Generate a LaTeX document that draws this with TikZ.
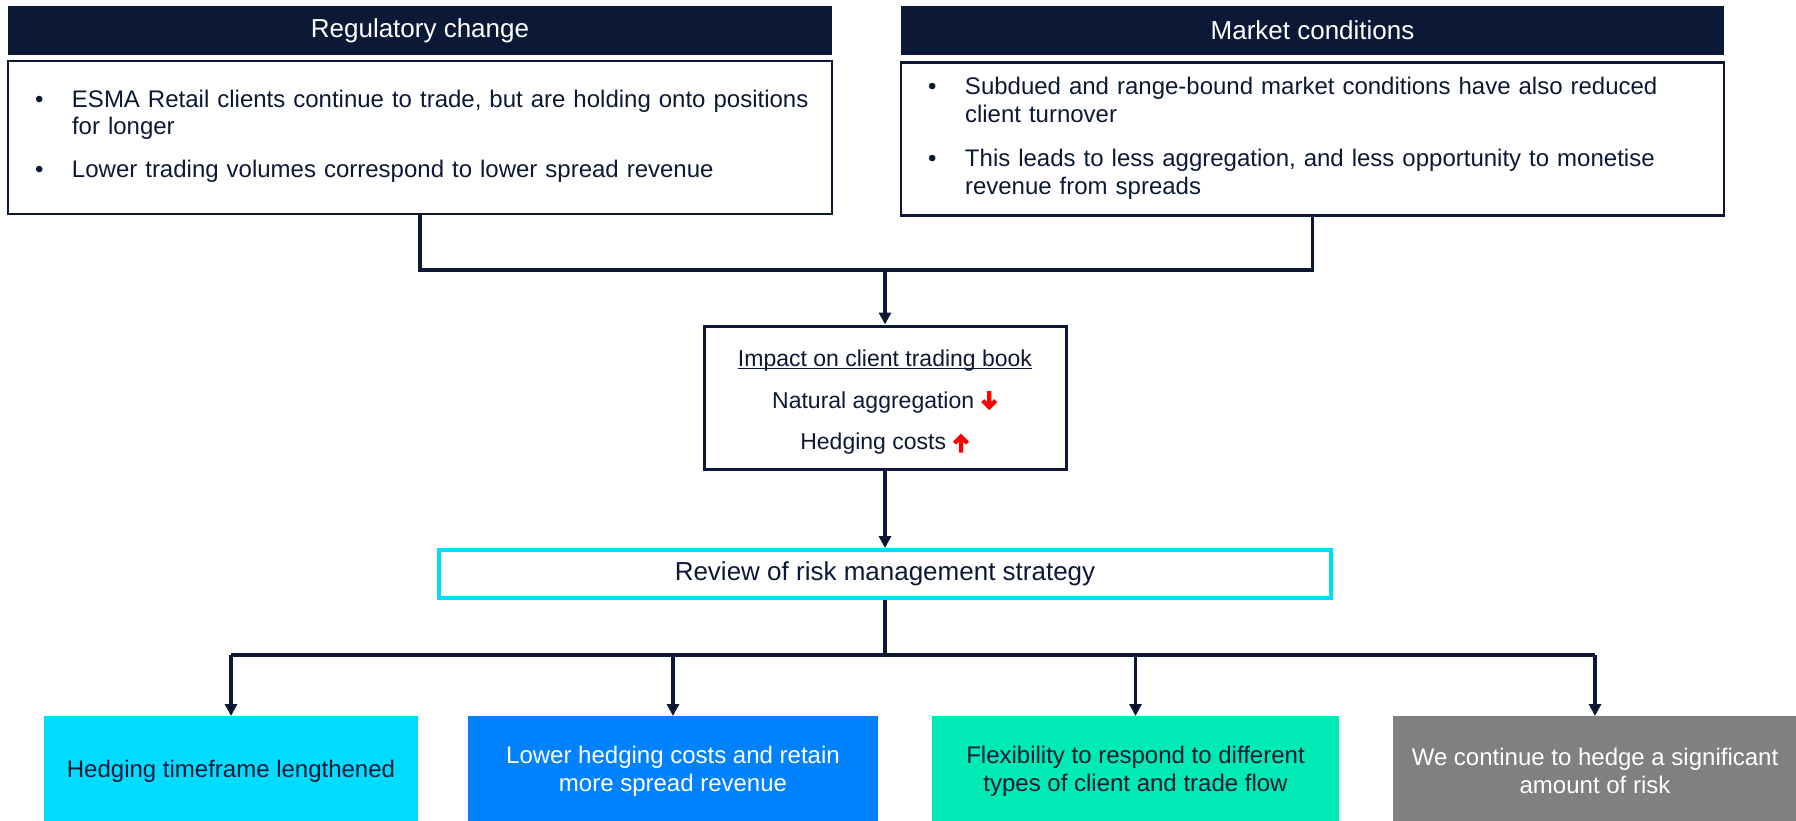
\documentclass[tikz,border=0pt]{standalone}
\usepackage{fontspec}
\setmainfont{Liberation Sans}
\usetikzlibrary{arrows.meta}
\definecolor{navy}{HTML}{0B1936}
\definecolor{skyc}{HTML}{00DCFF}
\definecolor{bluec}{HTML}{0082FF}
\definecolor{mintc}{HTML}{00EAB5}
\definecolor{greyc}{HTML}{808080}
\newcommand{\ulbook}[1]{\setbox0=\hbox{#1}\rlap{\rule[-2.5pt]{\wd0}{1.4pt}}\box0}
\newcommand{\godown}{\smash{\tikz[baseline=0pt]\draw[red,line width=4.2pt] (0pt,17pt) -- (0pt,3pt) (-6.5pt,7.5pt) -- (0pt,1pt) -- (6.5pt,7.5pt);}}
\newcommand{\goup}{\smash{\tikz[baseline=0pt]\draw[red,line width=4.2pt] (0pt,-3pt) -- (0pt,11pt) (-6.5pt,6.5pt) -- (0pt,13pt) -- (6.5pt,6.5pt);}}
\begin{document}
\begin{tikzpicture}[x=1pt,y=-1pt,>={Triangle[length=12pt,width=12pt]},
    headbox/.style={fill=navy,minimum width=824pt,minimum height=49pt,inner sep=0pt,text=white,font=\fontsize{26}{30}\selectfont},
    bodybox/.style={draw=navy,line width=2.5pt,minimum width=824pt,minimum height=153pt,text width=770pt,inner xsep=27pt,align=left,text=navy,font=\fontsize{24}{27}\selectfont},
    botbox/.style={anchor=north,minimum height=110pt,inner sep=0pt,align=center,font=\fontsize{24}{28}\selectfont},
    conn/.style={draw=navy,line width=3.5pt}]
    \useasboundingbox (0,0) rectangle (1796,820);
    \node[headbox] (RegHead) at (420,30.5) {Regulatory change};
    \node[headbox,minimum width=823pt] (MktHead) at (1312.5,30.5) {Market conditions};
    \node[bodybox] (RegBody) at (420,137.5) {\begin{tabular}{@{}p{37pt}@{}l@{}}
      \textbullet & ESMA Retail clients continue to trade, but are holding onto positions\\
      & for longer\\[16pt]
      \textbullet & Lower trading volumes correspond to lower spread revenue
    \end{tabular}};
    \node[bodybox,minimum width=823pt,text width=769pt,font=\fontsize{24}{28.5}\selectfont] (MktBody) at (1312.5,139) {\begin{tabular}{@{}p{37pt}@{}l@{}}
      \textbullet & Subdued and range-bound market conditions have also reduced\\
      & client turnover\\[15pt]
      \textbullet & This leads to less aggregation, and less opportunity to monetise\\
      & revenue from spreads
    \end{tabular}};
    \node[draw=navy,line width=3pt,minimum width=362pt,minimum height=143pt,align=center,text=navy,font=\fontsize{23}{41.5}\selectfont] (Impact) at (885,397.5)
      {\rule{0pt}{26pt}\ulbook{Impact on client trading book}\\ Natural aggregation \godown\\ Hedging costs \goup};
    \node[draw=skyc,line width=4pt,minimum width=892pt,minimum height=48pt,text=navy,font=\fontsize{26}{30}\selectfont] (Review) at (885,574) {Review of risk management strategy};
    \node[botbox,fill=skyc,text=navy,minimum width=374pt] (B1) at (231,716) {Hedging timeframe lengthened};
    \node[botbox,fill=bluec,text=white,minimum width=410pt] (B2) at (673,716) {Lower hedging costs and retain\\more spread revenue};
    \node[botbox,fill=mintc,text=navy,minimum width=407pt] (B3) at (1135.5,716) {Flexibility to respond to different\\types of client and trade flow};
    \node[botbox,fill=greyc,text=white,minimum width=404pt] (B4) at (1595,716) {We continue to hedge a significant\\amount of risk};
    \coordinate (J) at (885,270);
    \coordinate (S) at (885,655);
    \draw[conn] (RegBody.south) |- (J) -| (MktBody.south);
    \draw[conn,->] (J) -- (Impact.north);
    \draw[conn,->] (Impact.south) -- (Review.north);
    \draw[conn] (Review.south) -- (S);
    \draw[conn] (B1.north |- S) -- (B4.north |- S);
    \foreach \b in {B1,B2,B3,B4}
      \draw[conn,->] (\b.north |- S) -- (\b.north);
\end{tikzpicture}
\end{document}
